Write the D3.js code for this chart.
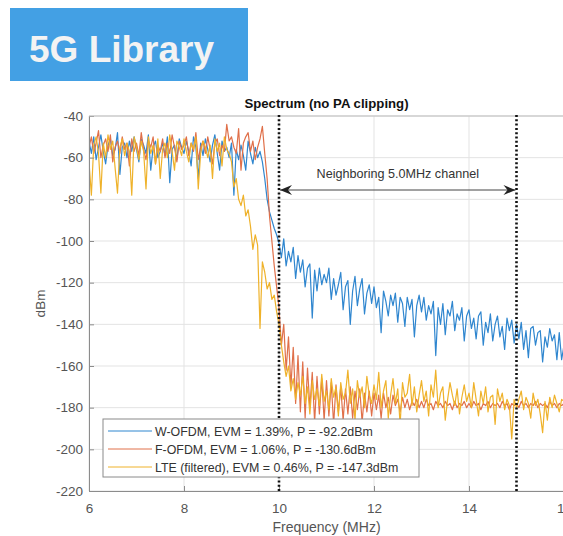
<!DOCTYPE html>
<html><head><meta charset="utf-8">
<script src="https://cdn.jsdelivr.net/npm/d3@7"></script>
<style>html,body{margin:0;padding:0;background:#fff;}svg{display:block;font-family:"Liberation Sans",Arial,sans-serif;}</style>
</head><body>
<svg id="chart" width="563" height="536"></svg>
<script>
const freqMHz = [
6.00,6.05,6.10,6.15,6.20,6.25,6.30,6.35,6.40,6.45,6.50,6.55,6.60,6.65,6.70,6.75,6.80,6.85,6.90,6.95,
7.00,7.05,7.10,7.15,7.20,7.25,7.30,7.35,7.40,7.45,7.50,7.55,7.60,7.65,7.70,7.75,7.80,7.85,7.90,7.95,
8.00,8.05,8.10,8.15,8.20,8.25,8.30,8.35,8.40,8.45,8.50,8.55,8.60,8.65,8.70,8.75,8.80,8.85,8.90,8.95,
9.00,9.05,9.10,9.15,9.20,9.25,9.30,9.35,9.40,9.45,9.50,9.55,9.60,9.65,9.70,9.75,9.80,9.85,9.90,9.95,
10.00,10.05,10.10,10.15,10.20,10.25,10.30,10.35,10.40,10.45,10.50,10.55,10.60,10.65,10.70,10.75,10.80,10.85,10.90,10.95,
11.00,11.05,11.10,11.15,11.20,11.25,11.30,11.35,11.40,11.45,11.50,11.55,11.60,11.65,11.70,11.75,11.80,11.85,11.90,11.95,
12.00,12.05,12.10,12.15,12.20,12.25,12.30,12.35,12.40,12.45,12.50,12.55,12.60,12.65,12.70,12.75,12.80,12.85,12.90,12.95,
13.00,13.05,13.10,13.15,13.20,13.25,13.30,13.35,13.40,13.45,13.50,13.55,13.60,13.65,13.70,13.75,13.80,13.85,13.90,13.95,
14.00,14.05,14.10,14.15,14.20,14.25,14.30,14.35,14.40,14.45,14.50,14.55,14.60,14.65,14.70,14.75,14.80,14.85,14.90,14.95,
15.00,15.05,15.10,15.15,15.20,15.25,15.30,15.35,15.40,15.45,15.50,15.55,15.60,15.65,15.70,15.75,15.80,15.85,15.90,15.95,
16.00];

const wOfdm = [
-52,-58,-50,-61,-55,-49,-57,-63,-54,-51,-59,-56,-48,-68,-55,-53,-60,-52,-57,-50,
-56,-62,-51,-54,-58,-49,-66,-55,-52,-60,-57,-53,-59,-50,-72,-56,-54,-61,-51,-55,
-58,-52,-57,-64,-50,-55,-70,-53,-59,-51,-56,-62,-54,-49,-58,-66,-52,-57,-55,-60,
-53,-78,-56,-61,-54,-59,-66,-52,-58,-63,-55,-60,-57,-62,-70,-80,-86,-90,-94,-97,
-101,-108,-99,-112,-105,-110,-103,-118,-107,-115,-109,-122,-113,-111,-137,-114,-124,-113,-121,-116,
-120,-113,-128,-118,-126,-121,-115,-133,-122,-119,-140,-124,-117,-131,-123,-118,-135,-125,-121,-130,
-122,-132,-127,-144,-124,-129,-136,-126,-131,-125,-139,-127,-130,-141,-127,-133,-128,-146,-131,-126,
-134,-127,-138,-131,-135,-129,-155,-132,-140,-130,-145,-133,-136,-129,-143,-135,-138,-132,-148,-136,
-133,-142,-137,-147,-136,-134,-150,-139,-144,-135,-148,-140,-136,-146,-141,-152,-137,-143,-138,-149,
-140,-147,-139,-152,-143,-156,-142,-141,-150,-144,-143,-158,-146,-151,-142,-148,-145,-157,-144,-157,
-150];

const fOfdm = [
-55,-50,-58,-53,-47,-60,-54,-51,-57,-49,-62,-55,-52,-58,-50,-56,-53,-64,-51,-57,
-53,-59,-48,-56,-61,-52,-55,-50,-63,-54,-57,-51,-60,-53,-58,-49,-55,-62,-52,-56,
-54,-50,-59,-53,-57,-48,-61,-55,-52,-58,-50,-56,-63,-53,-51,-59,-54,-57,-44,-52,
-50,-55,-58,-46,-66,-53,-50,-48,-57,-52,-61,-55,-51,-45,-58,-70,-88,-100,-112,-122,
-132,-150,-140,-162,-146,-170,-151,-178,-155,-182,-158,-185,-161,-180,-163,-187,-165,-183,-166,-186,
-167,-184,-168,-188,-169,-182,-170,-186,-171,-183,-170,-185,-172,-181,-171,-187,-173,-182,-172,-184,
-173,-181,-174,-185,-173,-180,-175,-183,-174,-179,-176,-182,-175,-180,-176,-181,-177,-179,-176,-180,
-177,-180,-176,-179,-178,-181,-177,-179,-178,-180,-177,-179,-178,-181,-177,-180,-178,-179,-177,-180,
-178,-180,-177,-179,-178,-181,-178,-179,-177,-180,-178,-179,-178,-180,-177,-179,-178,-181,-178,-179,
-178,-180,-177,-179,-178,-180,-178,-179,-177,-180,-178,-179,-178,-180,-177,-179,-178,-180,-178,-179,
-178];

const lteFiltered = [
-62,-78,-54,-50,-58,-77,-53,-60,-49,-56,-52,-65,-77,-55,-51,-59,-53,-57,-78,-50,
-55,-61,-52,-57,-75,-50,-58,-54,-63,-51,-70,-56,-53,-60,-49,-57,-66,-52,-55,-59,
-51,-57,-62,-53,-56,-50,-75,-58,-52,-55,-60,-54,-70,-51,-57,-53,-64,-50,-56,-58,
-62,-74,-70,-80,-83,-78,-88,-85,-93,-104,-97,-102,-142,-110,-115,-123,-120,-128,-126,-134,
-140,-150,-158,-165,-160,-172,-166,-176,-168,-174,-165,-178,-170,-183,-167,-176,-171,-179,-164,-177,
-172,-181,-166,-175,-170,-184,-168,-176,-173,-162,-178,-171,-186,-167,-175,-170,-180,-165,-174,-178,
-169,-176,-163,-180,-172,-167,-185,-174,-166,-178,-171,-188,-168,-175,-173,-164,-179,-170,-182,-174,
-167,-177,-172,-184,-169,-175,-162,-180,-173,-170,-186,-176,-168,-174,-179,-171,-183,-175,-169,-177,
-173,-180,-168,-176,-184,-172,-178,-170,-182,-175,-174,-188,-171,-177,-173,-181,-176,-179,-195,-176,
-180,-176,-172,-181,-175,-178,-185,-173,-179,-176,-183,-192,-177,-186,-175,-180,-174,-178,-182,-176,
-177];

const seriesNames = [
  "W-OFDM, EVM = 1.39%, P = -92.2dBm",
  "F-OFDM, EVM = 1.06%, P = -130.6dBm",
  "LTE (filtered), EVM = 0.46%, P = -147.3dBm"
];
const seriesColors = ["#2f86cf", "#e0704a", "#efb22a"];
const xTicks = [6, 8, 10, 12, 14, 16];
const yTicks = [-220, -200, -180, -160, -140, -120, -100, -80, -60, -40];
const channelEdges = [10, 15];
const titleText = "Spectrum (no PA clipping)";
const annotationText = "Neighboring 5.0MHz channel";
const xLabel = "Frequency (MHz)";
const yLabel = "dBm";
const bannerText = "5G Library";

const svg = d3.select("#chart");
const L = 89, R = 564, T = 116, B = 491;
const x = d3.scaleLinear().domain([6, 16]).range([L, R]);
const y = d3.scaleLinear().domain([-220, -40]).range([B, T]);

// banner
svg.append("rect").attr("x", 10).attr("y", 8).attr("width", 238).attr("height", 73).attr("fill", "#43a0e4");
svg.append("text").attr("x", 29).attr("y", 62).attr("fill", "#f3f3f3")
  .attr("font-size", 37).attr("font-weight", "bold").text(bannerText);

// plot background
svg.append("rect").attr("x", L).attr("y", T).attr("width", R - L).attr("height", B - T).attr("fill", "#fff");

// grid
const grid = svg.append("g");
grid.selectAll("line.gx").data(xTicks).join("line")
  .attr("x1", d => x(d)).attr("x2", d => x(d)).attr("y1", T).attr("y2", B)
  .attr("stroke", "#e3e3e3").attr("stroke-width", 1);
grid.selectAll("line.gy").data(yTicks).join("line")
  .attr("x1", L).attr("x2", R).attr("y1", d => y(d)).attr("y2", d => y(d))
  .attr("stroke", "#e3e3e3").attr("stroke-width", 1);

// clip
svg.append("defs").append("clipPath").attr("id", "clip")
  .append("rect").attr("x", L).attr("y", T).attr("width", R - L).attr("height", B - T);

const seriesData = [wOfdm, fOfdm, lteFiltered];
const line = d3.line().x((d, i) => x(freqMHz[i])).y(d => y(d));
const plot = svg.append("g").attr("clip-path", "url(#clip)");
seriesData.forEach((vals, k) => {
  plot.append("path").datum(vals).attr("d", line)
    .attr("fill", "none").attr("stroke", seriesColors[k]).attr("stroke-width", 1.2)
    .attr("stroke-linejoin", "round");
});

// axes (MATLAB style: ticks inside)
const axisColor = "#8c8c8c";
const xAxis = svg.append("g").attr("transform", `translate(0,${B})`)
  .call(d3.axisBottom(x).tickValues(xTicks).tickSize(-5).tickPadding(12).tickFormat(d3.format("d")));
const yAxis = svg.append("g").attr("transform", `translate(${L},0)`)
  .call(d3.axisLeft(y).tickValues(yTicks).tickSize(-5).tickPadding(6).tickFormat(d => String(d)));
[xAxis, yAxis].forEach(a => {
  a.select(".domain").attr("stroke", axisColor);
  a.selectAll(".tick line").attr("stroke", axisColor);
  a.selectAll(".tick text").attr("fill", "#555").attr("font-size", 13.5)
    .attr("font-family", "\"Liberation Sans\",Arial,sans-serif");
});
// top box line
svg.append("line").attr("x1", L).attr("x2", R).attr("y1", T).attr("y2", T).attr("stroke", "#bdbdbd");

// channel edges (dotted)
svg.selectAll("line.edge").data(channelEdges).join("line")
  .attr("x1", d => x(d)).attr("x2", d => x(d)).attr("y1", T - 1).attr("y2", B + 2)
  .attr("stroke", "#111").attr("stroke-width", 2.6).attr("stroke-dasharray", "2,2.3");

// double arrow
const ay = 190;
const ax0 = x(channelEdges[0]) + 1, ax1 = x(channelEdges[1]) - 1;
svg.append("line").attr("x1", ax0).attr("x2", ax1).attr("y1", ay).attr("y2", ay).attr("stroke", "#444").attr("stroke-width", 1);
svg.append("path").attr("d", `M${ax0},${ay} L${ax0 + 12},${ay - 5} L${ax0 + 8},${ay} L${ax0 + 12},${ay + 5} Z`).attr("fill", "#222");
svg.append("path").attr("d", `M${ax1},${ay} L${ax1 - 12},${ay - 5} L${ax1 - 8},${ay} L${ax1 - 12},${ay + 5} Z`).attr("fill", "#222");
svg.append("text").attr("x", (ax0 + ax1) / 2).attr("y", 178).attr("text-anchor", "middle")
  .attr("font-size", 12.6).attr("fill", "#333").text(annotationText);

// title
svg.append("text").attr("x", (L + R) / 2).attr("y", 108).attr("text-anchor", "middle")
  .attr("font-size", 13.2).attr("font-weight", "bold").attr("fill", "#111").text(titleText);

// axis labels
svg.append("text").attr("x", (L + R) / 2).attr("y", 532).attr("text-anchor", "middle")
  .attr("font-size", 14).attr("fill", "#555").text(xLabel);
svg.append("text").attr("transform", `translate(45,${(T + B) / 2}) rotate(-90)`).attr("text-anchor", "middle")
  .attr("font-size", 13.5).attr("fill", "#555").text(yLabel);

// legend
const lg = svg.append("g");
lg.append("rect").attr("x", 103).attr("y", 419).attr("width", 316).attr("height", 58)
  .attr("fill", "#fff").attr("stroke", "#8a8a8a").attr("stroke-width", 1);
const rowY = [431, 449, 467];
seriesNames.forEach((name, k) => {
  lg.append("line").attr("x1", 108).attr("x2", 152).attr("y1", rowY[k]).attr("y2", rowY[k])
    .attr("stroke", seriesColors[k]).attr("stroke-width", 1);
  lg.append("text").attr("x", 155).attr("y", rowY[k] + 4.5).attr("font-size", 12.4).attr("fill", "#333").text(name);
});
</script>
</body></html>
